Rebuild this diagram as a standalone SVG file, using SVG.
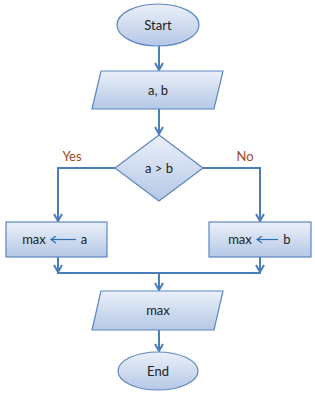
<svg xmlns="http://www.w3.org/2000/svg" width="315" height="396" viewBox="0 0 315 396">
<style>
.shape{fill:url(#g);stroke:#5b87c0;stroke-width:1.2}
.conn{fill:none;stroke:#4a7ebb;stroke-width:2}
.t{font-family:Lato,"Liberation Sans",sans-serif;font-size:13px;fill:#222;text-anchor:middle}
.lbl{font-family:Lato,"Liberation Sans",sans-serif;font-size:13px;fill:#9b4a1c;text-anchor:middle}
.inner{fill:none;stroke:#2e6fb0;stroke-width:1.2}
</style>
<defs>
<linearGradient id="g" x1="0" y1="0" x2="0" y2="1">
<stop offset="0" stop-color="#eaf0f9"/>
<stop offset="1" stop-color="#b5c8e6"/>
</linearGradient>
<marker id="ah" markerWidth="10" markerHeight="10" refX="8" refY="5" orient="auto" markerUnits="userSpaceOnUse">
<path d="M1,1 L8,5 L1,9" fill="none" stroke="#4a7ebb" stroke-width="2"/>
</marker>
<marker id="ia" markerWidth="8" markerHeight="8" refX="1" refY="4" orient="auto" markerUnits="userSpaceOnUse">
<path d="M6,0.5 L1,4 L6,7.5" fill="none" stroke="#2e6fb0" stroke-width="1.2"/>
</marker>
</defs>
<g id="connectors">
<path class="conn" d="M159,46 V70" marker-end="url(#ah)"/>
<path class="conn" d="M159,109 V134" marker-end="url(#ah)"/>
<path class="conn" d="M115,168 H58 V221" marker-end="url(#ah)"/>
<path class="conn" d="M203,168 H260 V221" marker-end="url(#ah)"/>
<path class="conn" d="M58,257 V272" marker-end="url(#ah)"/>
<path class="conn" d="M260,257 V272" marker-end="url(#ah)"/>
<path class="conn" d="M57,273 H261"/>
<path class="conn" d="M159,273 V290" marker-end="url(#ah)"/>
<path class="conn" d="M159,330 V351" marker-end="url(#ah)"/>
<text class="lbl" x="72" y="161">Yes</text>
<text class="lbl" x="245" y="161">No</text>
</g>
<g id="start">
<ellipse class="shape" cx="158" cy="25" rx="41" ry="21"/>
<text class="t" x="158" y="29.5">Start</text>
</g>
<g id="input">
<polygon class="shape" points="101,71 223,71 214,109 92,109"/>
<text class="t" x="158" y="94.5">a, b</text>
</g>
<g id="decision">
<polygon class="shape" points="159,135 203,168 159,201 115,168"/>
<text class="t" x="159" y="172.5">a &gt; b</text>
</g>
<g id="maxa">
<rect class="shape" x="6" y="222" width="101" height="35"/>
<text class="t" x="34" y="244">max</text>
<line class="inner" x1="51" y1="239.5" x2="76" y2="239.5" marker-start="url(#ia)"/>
<text class="t" x="84" y="244">a</text>
</g>
<g id="maxb">
<rect class="shape" x="209" y="222" width="102" height="35"/>
<text class="t" x="240" y="244">max</text>
<line class="inner" x1="257" y1="239.5" x2="278" y2="239.5" marker-start="url(#ia)"/>
<text class="t" x="287" y="244">b</text>
</g>
<g id="output">
<polygon class="shape" points="101,291 223,291 214,330 92,330"/>
<text class="t" x="158" y="315">max</text>
</g>
<g id="end">
<ellipse class="shape" cx="158" cy="371" rx="40" ry="19"/>
<text class="t" x="158" y="375.5">End</text>
</g>
</svg>
